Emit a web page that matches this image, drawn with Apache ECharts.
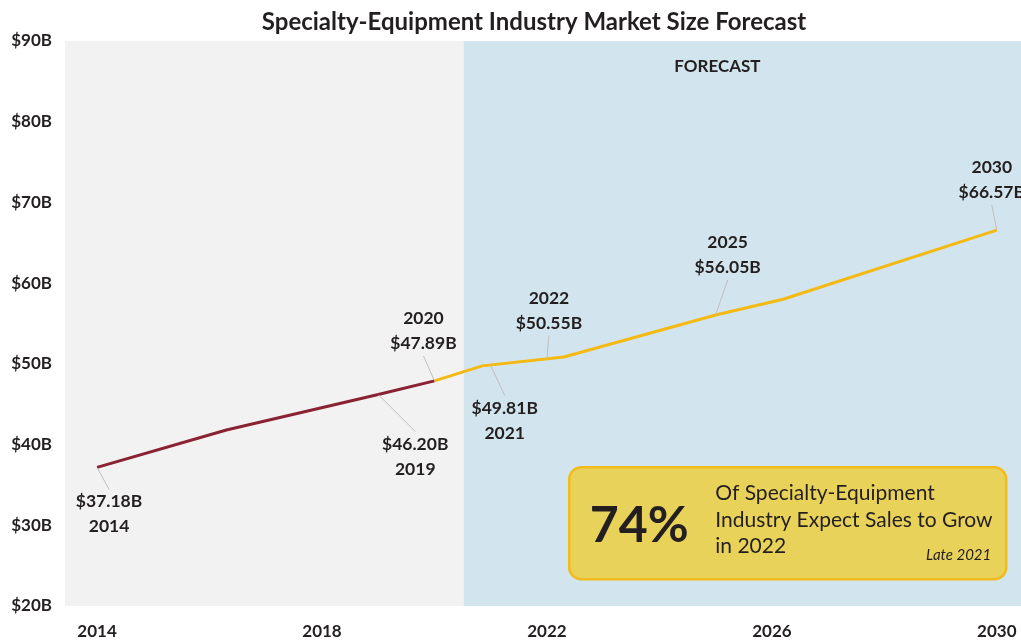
<!DOCTYPE html>
<html>
<head>
<meta charset="utf-8">
<script src="https://cdn.jsdelivr.net/npm/echarts@6/dist/echarts.min.js"></script>
<style>
html,body{margin:0;padding:0;background:#fff;}
#chart{width:1021px;height:640px;}
</style>
</head>
<body>
<div id="chart"></div>
<script>
// ---- data ----
const histYears = [2014, 2016.3, 2019, 2020];
const histValues = [37.18, 41.8, 46.20, 47.89];
const fcYears = [2020, 2020.85, 2022.3, 2025, 2026.2, 2030];
const fcValues = [47.89, 49.75, 50.85, 56.05, 58.0, 66.57];
const labelYears = [2014, 2019, 2020, 2021, 2022, 2025, 2030];
const labelValues = [37.18, 46.20, 47.89, 49.81, 50.55, 56.05, 66.57];
const xTickLabels = [2014, 2018, 2022, 2026, 2030];
const forecastStart = 2020.52;
const xMin = 2013.43, xMax = 2030.43;

// label offsets (layout only)
const labelOffsets = [[12,47],[37,62],[-11,-50],[14,55],[2,-49],[12,-60],[-5,-50]];

const textColor = '#231f20';
const font = 'Lato, "Open Sans", sans-serif';

const chart = echarts.init(document.getElementById('chart'));
chart.setOption({
  animation: false,
  title: {
    text: 'Specialty-Equipment Industry Market Size Forecast',
    left: 529, top: 5, textAlign: 'center',
    textStyle: {fontFamily: font, fontWeight: 'bold', fontSize: 24, color: textColor}
  },
  grid: {left: 65, right: 0, top: 41, bottom: 33, containLabel: false},
  xAxis: {
    type: 'value', min: xMin, max: xMax,
    axisLine: {show: false}, axisTick: {show: false}, splitLine: {show: false},
    axisLabel: {
      customValues: xTickLabels, margin: 17,
      fontFamily: font, fontWeight: 'bold', fontSize: 17, color: textColor,
      formatter: v => String(Math.round(v))
    }
  },
  yAxis: {
    type: 'value', min: 20, max: 90, interval: 10,
    axisLine: {show: false}, axisTick: {show: false}, splitLine: {show: false},
    axisLabel: {
      margin: 13, fontFamily: font, fontWeight: 'bold', fontSize: 17, color: textColor,
      formatter: v => '$' + v + 'B'
    }
  },
  series: [
    {
      type: 'line', name: 'Historical',
      data: histYears.map((y, i) => [y, histValues[i]]),
      symbol: 'none', lineStyle: {color: '#8b2232', width: 3}, z: 3,
      markArea: {
        silent: true,
        data: [
          [{xAxis: xMin, itemStyle: {color: '#f2f2f2'}}, {xAxis: forecastStart}],
          [{xAxis: forecastStart, itemStyle: {color: '#d2e5ee'},
            label: {show: true, position: 'insideTop', offset: [-25, 12], formatter: 'FORECAST',
                    fontFamily: font, fontWeight: 'bold', fontSize: 17, color: textColor}},
           {xAxis: xMax}]
        ]
      }
    },
    {
      type: 'line', name: 'Forecast',
      data: fcYears.map((y, i) => [y, fcValues[i]]),
      symbol: 'none', lineStyle: {color: '#f5b913', width: 3}, z: 3
    },
    {
      type: 'scatter', name: 'Labels',
      data: labelYears.map((y, i) => [y, labelValues[i]]),
      symbolSize: 1, itemStyle: {color: 'rgba(0,0,0,0)', opacity: 1}, z: 4,
      label: {
        show: true, position: 'inside', align: 'center', verticalAlign: 'middle',
        fontFamily: font, fontWeight: 'bold', fontSize: 17.5, lineHeight: 25, color: textColor,
        formatter: p => {
          const v = '$' + p.value[1].toFixed(2) + 'B';
          const yr = String(p.value[0]);
          return labelOffsets[p.dataIndex][1] < 0 ? yr + '\n' + v : v + '\n' + yr;
        }
      },
      labelLine: {show: true, lineStyle: {color: '#bfbfbf', width: 1}},
      labelLayout: p => ({dx: labelOffsets[p.dataIndex][0], dy: labelOffsets[p.dataIndex][1]})
    }
  ],
  graphic: [
    {
      type: 'group', left: 568, top: 466, z: 100,
      children: [
        {type: 'rect', z: 100, shape: {x: 0, y: 0, width: 437, height: 112, r: 12},
         style: {fill: '#e8d25a', stroke: '#f2bb1c', lineWidth: 2.5}},
        {type: 'text', z: 101, x: 70, y: 59,
         style: {text: '74%', fontFamily: font, fontWeight: 'bold', fontSize: 50, fill: textColor,
                 align: 'center', verticalAlign: 'middle'}},
        {type: 'text', z: 101, x: 146, y: 13,
         style: {text: 'Of Specialty-Equipment\nIndustry Expect Sales to Grow\nin 2022', fontFamily: font,
                 fontSize: 21, lineHeight: 26.5, fill: textColor, verticalAlign: 'top'}},
        {type: 'text', z: 101, x: 422, y: 88,
         style: {text: 'Late 2021', fontFamily: font, fontStyle: 'italic', fontSize: 15, fill: textColor,
                 align: 'right', verticalAlign: 'middle'}}
      ]
    }
  ]
});
</script>
</body>
</html>
